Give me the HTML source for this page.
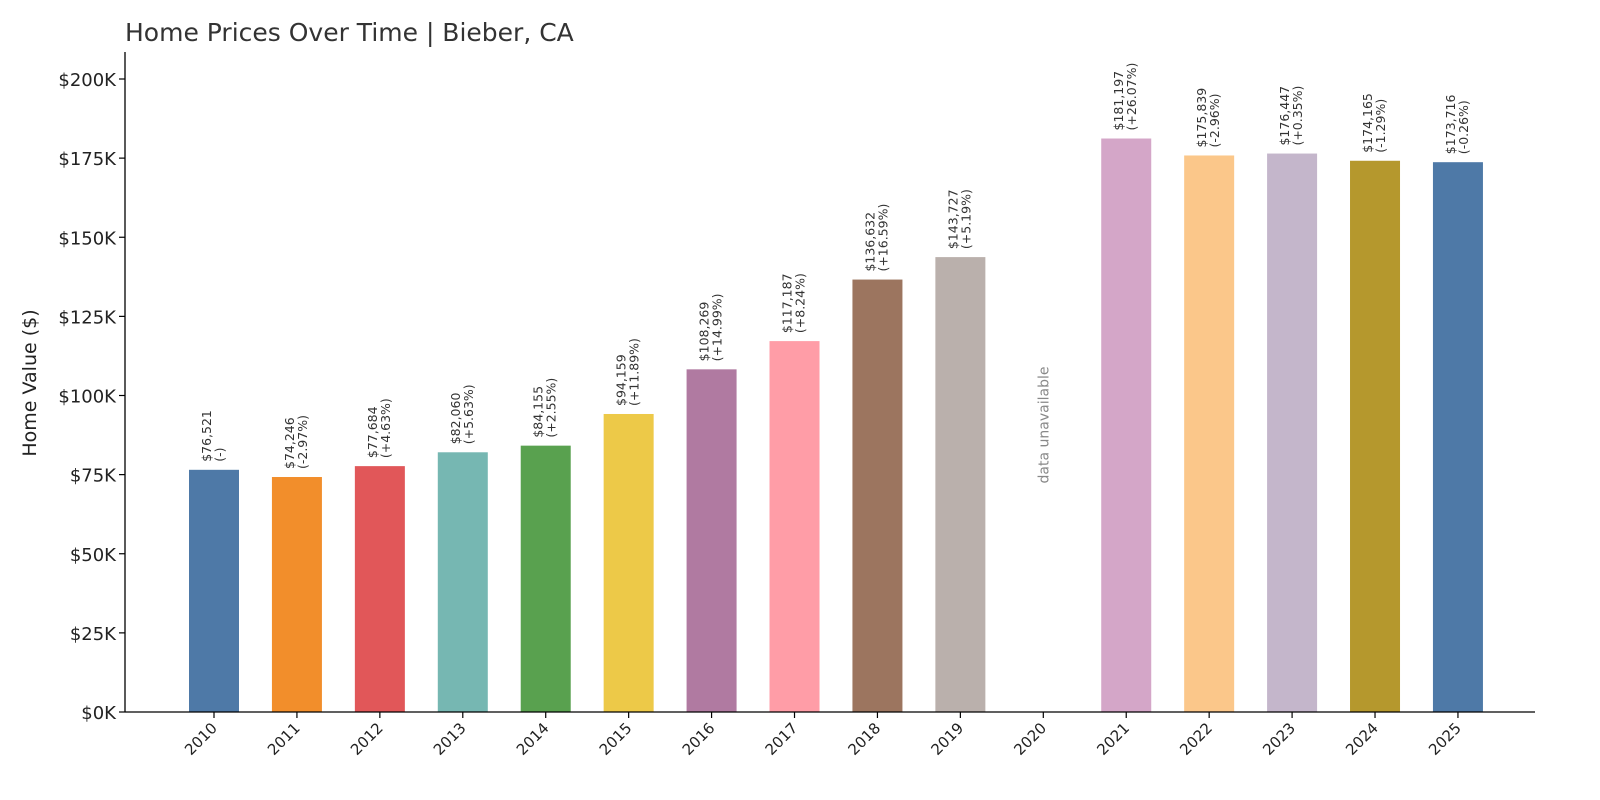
<!DOCTYPE html>
<html><head><meta charset="utf-8"><style>
body{margin:0;background:#fff;}
svg{display:block;font-family:"DejaVu Sans","Liberation Sans",sans-serif;}
</style></head><body>
<svg id="chart" width="1600" height="800" viewBox="0 0 1600 800">
<text x="125" y="41" font-size="25" fill="#333">Home Prices Over Time | Bieber, CA</text>
<text transform="translate(36,383) rotate(-90)" text-anchor="middle" font-size="19" fill="#222">Home Value ($)</text>
<g id="yaxis"></g>
<g id="bars"></g>
<g id="xaxis"></g>
</svg>
<script>
const years = ["2010","2011","2012","2013","2014","2015","2016","2017","2018","2019","2020","2021","2022","2023","2024","2025"];
const values = [76521,74246,77684,82060,84155,94159,108269,117187,136632,143727,null,181197,175839,176447,174165,173716];
const changes = ["(-)","(-2.97%)","(+4.63%)","(+5.63%)","(+2.55%)","(+11.89%)","(+14.99%)","(+8.24%)","(+16.59%)","(+5.19%)","","(+26.07%)","(-2.96%)","(+0.35%)","(-1.29%)","(-0.26%)"];
const colors = ["#4e79a7","#f28e2b","#e15759","#76b7b2","#59a14f","#edc948","#b07aa1","#ff9da7","#9c755f","#bab0ac","#999","#d4a6c8","#fbc78a","#c4b6cb","#b5982d","#4e79a7"];
const yTicks = [0,25000,50000,75000,100000,125000,150000,175000,200000];
const yTickLabels = ["$0K","$25K","$50K","$75K","$100K","$125K","$150K","$175K","$200K"];

const NS="http://www.w3.org/2000/svg";
const y0=712, pxPer=633/200000;
const ys=v=>y0-v*pxPer;
const xs=i=>214+i*82.93;
const barW=50;
function mk(tag,attrs,parent){const e=document.createElementNS(NS,tag);for(const k in attrs)e.setAttribute(k,attrs[k]);parent.appendChild(e);return e;}
const ya=document.getElementById('yaxis'), ba=document.getElementById('bars'), xa=document.getElementById('xaxis');
let sp=mk('line',{x1:125,y1:52,x2:125,y2:y0,stroke:'#000','stroke-width':1.3},ya);


yTicks.forEach((t,i)=>{
  const tk=mk('line',{x1:119,y1:ys(t),x2:125,y2:ys(t),stroke:'#000','stroke-width':1.2},ya);
  
  
  const tl=mk('text',{x:116,y:ys(t)+7,'text-anchor':'end','font-size':18,fill:'#222'},ya);
  tl.textContent=yTickLabels[i];
  
  
});
let bx=mk('line',{x1:125,y1:y0,x2:1535,y2:y0,stroke:'#000','stroke-width':1.3},xa);


years.forEach((yr,i)=>{
  const x=xs(i);
  const tk=mk('line',{x1:x,y1:y0,x2:x,y2:y0+6,stroke:'#000','stroke-width':1.2},xa);
  
  
  const tl=mk('text',{transform:`translate(${x+4},${y0+17}) rotate(-45)`,'text-anchor':'end','font-size':15,fill:'#222'},xa);
  tl.textContent=yr;
  
  
  const v=values[i];
  if(v==null){
    const t=mk('text',{transform:`translate(${x+5},${425}) rotate(-90)`,'text-anchor':'middle','font-size':14,fill:'#888'},ba);
    t.textContent='data unavailable';
    
    
    return;
  }
  const r=mk('rect',{x:x-barW/2,y:ys(v),width:barW,height:y0-ys(v),fill:colors[i]},ba);
  
  
  const t=mk('text',{transform:`translate(${x},${ys(v)-8}) rotate(-90)`,'font-size':12.5,fill:'#333'},ba);
  
  
  const a=mk('tspan',{x:0,y:-3},t); a.textContent='$'+v.toLocaleString('en-US');
  const b=mk('tspan',{x:0,y:10},t); b.textContent=changes[i];
});
</script>
</body></html>
